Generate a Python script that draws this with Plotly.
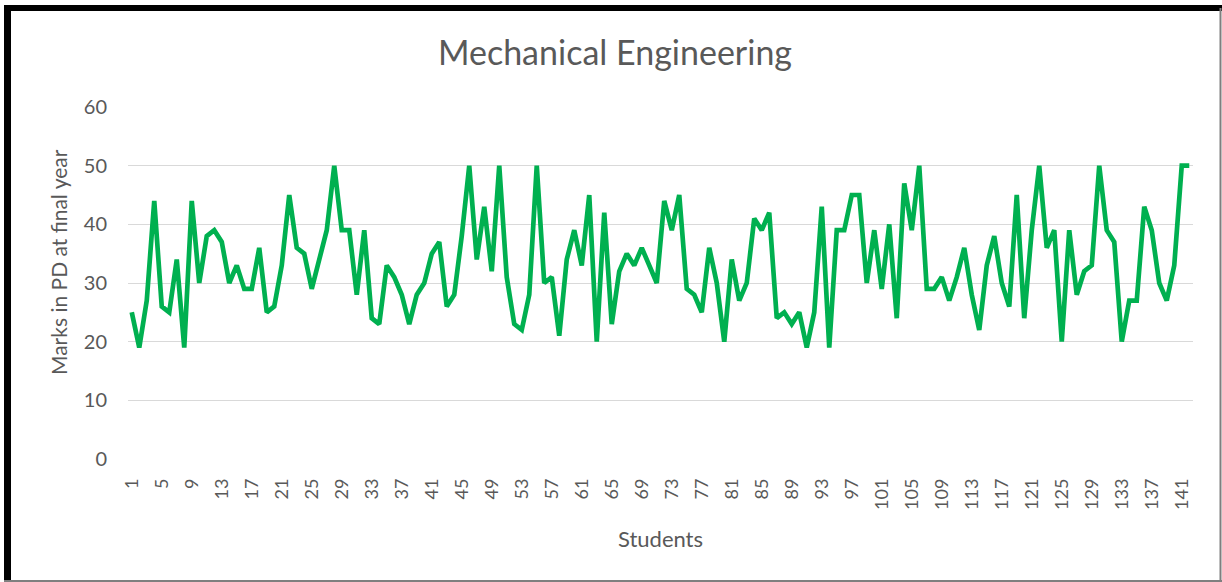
import plotly.graph_objects as go

students = list(range(1, 143))
marks = [
    25, 19, 27, 44, 26, 25, 34, 19, 44, 30,
    38, 39, 37, 30, 33, 29, 29, 36, 25, 26,
    33, 45, 36, 35, 29, 34, 39, 50, 39, 39,
    28, 39, 24, 23, 33, 31, 28, 23, 28, 30,
    35, 37, 26, 28, 38, 50, 34, 43, 32, 50,
    31, 23, 22, 28, 50, 30, 31, 21, 34, 39,
    33, 45, 20, 42, 23, 32, 35, 33, 36, 33,
    30, 44, 39, 45, 29, 28, 25, 36, 30, 20,
    34, 27, 30, 41, 39, 42, 24, 25, 23, 25,
    19, 25, 43, 19, 39, 39, 45, 45, 30, 39,
    29, 40, 24, 47, 39, 50, 29, 29, 31, 27,
    31, 36, 28, 22, 33, 38, 30, 26, 45, 24,
    39, 50, 36, 39, 20, 39, 28, 32, 33, 50,
    39, 37, 20, 27, 27, 43, 39, 30, 27, 33,
    50, 50,
]
tick_vals = list(range(1, 143, 4))
tick_text = [str(v) for v in tick_vals]

title_text = "Mechanical Engineering"
x_title = "Students"
y_title = "Marks in PD at final year"

W, H = 1222, 582
L, R, T, B = 128, 29, 107, 123
PW, PH = W - L - R, H - T - B

def px(x):
    return (x - L) / PW

def py(y):
    return (H - B - y) / PH

font_family = "Lato, 'Open Sans', sans-serif"
grey = "#595959"

fig = go.Figure()
fig.add_trace(go.Scatter(
    x=students, y=marks, mode="lines",
    line=dict(color="#00B050", width=4.7),
    showlegend=False,
))

fig.update_layout(
    width=W, height=H,
    margin=dict(l=L, r=R, t=T, b=B),
    paper_bgcolor="white", plot_bgcolor="white",
    font=dict(family=font_family, color=grey),
    title=dict(text=title_text, x=615 / W, xref="container", y=1 - 53 / H,
               yref="container", xanchor="center", yanchor="middle",
               font=dict(size=34, color=grey, family=font_family)),
    xaxis=dict(
        range=[0.5, 142.5], tickmode="array", tickvals=tick_vals, ticktext=tick_text,
        tickangle=-90, tickfont=dict(size=18, color=grey),
        showgrid=False, zeroline=False, showline=False,
        ticks="", ticklabelstandoff=15,
        title=dict(text=x_title, font=dict(size=22, color=grey), standoff=22),
    ),
    yaxis=dict(
        range=[0, 60], dtick=10, tick0=0,
        tickfont=dict(size=20, color=grey),
        showgrid=True, gridcolor="#D9D9D9", gridwidth=1.2,
        zeroline=False, showline=False, ticks="", ticklabelstandoff=20,
    ),
    annotations=[
        dict(text=y_title, xref="paper", yref="paper", x=px(58), y=py(262),
             xanchor="center", yanchor="middle", textangle=-90, showarrow=False,
             font=dict(size=21, color=grey, family=font_family)),
    ],
    shapes=[
        dict(type="line", xref="paper", yref="paper", x0=px(7.5), x1=px(7.5),
             y0=py(5), y1=py(582), line=dict(color="black", width=7)),
        dict(type="line", xref="paper", yref="paper", x0=px(4), x1=px(1222),
             y0=py(8), y1=py(8), line=dict(color="black", width=6)),
        dict(type="line", xref="paper", yref="paper", x0=px(1220.5), x1=px(1220.5),
             y0=py(8), y1=py(582), line=dict(color="#7F7F7F", width=2)),
        dict(type="line", xref="paper", yref="paper", x0=px(4), x1=px(1222),
             y0=py(581), y1=py(581), line=dict(color="#7F7F7F", width=2)),
    ],
)

fig.write_html(
    "out.html",
    config={"displayModeBar": False},
    post_script="document.body.style.margin='0';document.body.style.overflow='hidden';",
)
